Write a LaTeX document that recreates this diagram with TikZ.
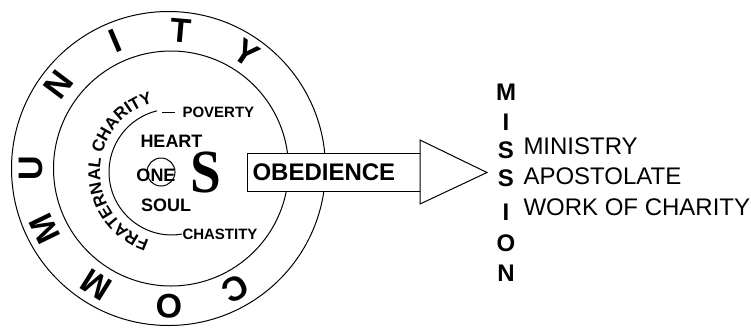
\documentclass[tikz,border=0pt]{standalone}
\usepackage{fontspec}
\setmainfont{Liberation Sans}
\newfontfamily\bigserif{Liberation Serif}
\usetikzlibrary{decorations.text}

\tikzset{every picture/.style={line width=0.75pt}}
\tikzset{
  ringletter/.style={inner sep=0pt, font=\fontsize{25.5pt}{25.5pt}\selectfont\bfseries},
  heartsoul/.style={inner sep=0pt, font=\fontsize{13.5pt}{13.5pt}\selectfont\bfseries},
  vow/.style={inner sep=0pt, anchor=west, font=\fontsize{11.25pt}{11.25pt}\selectfont\bfseries},
  missletter/.style={inner sep=0pt, font=\fontsize{18pt}{18pt}\selectfont\bfseries},
  work/.style={inner sep=0pt, anchor=west, font=\fontsize{18pt}{18pt}\selectfont},
  shaft/.style={draw, fill=white, anchor=west, inner xsep=3.75pt, inner ysep=0pt, minimum height=28.5pt, text width=122.25pt, align=left, font=\fontsize{18pt}{18pt}\selectfont\bfseries}
}

\begin{document}
\begin{tikzpicture}[x=0.75pt,y=0.75pt,yscale=-1,xscale=1]
\useasboundingbox (0,0) rectangle (751,330);

%Shape: Circle
\draw (168.5,168.5) circle [radius=157];
%Shape: Circle
\draw (171,168.5) circle [radius=117.5];

% COMMUNITY round the ring
\foreach \ang/\ch [count=\i] in {56/Y,85/T,113/I,143/N,180/U,206/M,238/M,270/O,299/C}
  \path (169,168) ++(-\ang:138) node (ring\i) [ringletter, rotate=\ang-90] {\ch};

% FRATERNAL CHARITY
\path [decorate, decoration={text along path, text align=center, text={|\fontsize{12.75pt}{12.75pt}\selectfont\bfseries|FRATERNAL CHARITY}}] (172,172) ++(96.5:72) arc [start angle=96.5, end angle=266.5, radius=72];

%Shape: Arc
\coordinate (arcbot) at (175.3,234.9);
\draw (arcbot) arc [start angle=87, end angle=256.2, radius=63];

% Text Node
\node (heart) [heartsoul] at (171.5,141.5) {HEART};
% Text Node
\node (one) [heartsoul] at (156,175) {ONE};
%Shape: Circle
\draw (161,172) circle [radius=14];
% Text Node
\node (soul) [heartsoul] at (166,205) {SOUL};
% Text Node
\node (bigS) [inner sep=0pt, xscale=0.9, font=\bigserif\fontsize{46pt}{46pt}\selectfont\bfseries] at (205.5,172) {S};

% Text Node
\node (poverty) [vow] at (182,112.5) {POVERTY};
% Text Node
\node (chastity) [vow] at (182,234) {CHASTITY};
%Straight Lines
\draw ([xshift=-15pt]poverty.west) -- ([xshift=-5pt]poverty.west);
%Straight Lines
\draw (arcbot) -- (chastity.west);

% Arrow
\node (obedience) [shaft] at (247,172.5) {OBEDIENCE};
\coordinate (headtop) at (420,140);
\coordinate (headbot) at (420,204);
\coordinate (tip) at (487,172.5);
\draw [fill=white] (headtop) -- (tip) -- (headbot) -- cycle;

% MISSION down the side
\foreach \y/\ch [count=\i] in {92/M,122/I,150/S,178/S,212/I,243/O,273/N}
  \node (miss\i) [missletter] at (506,\y) {\ch};

% Text Node
\node (ministry) [work] at (523,146) {MINISTRY};
% Text Node
\node (apostolate) [work] at (523,176) {APOSTOLATE};
% Text Node
\node (charitywork) [work] at (523,207.5) {WORK OF CHARITY};
\end{tikzpicture}
\end{document}
